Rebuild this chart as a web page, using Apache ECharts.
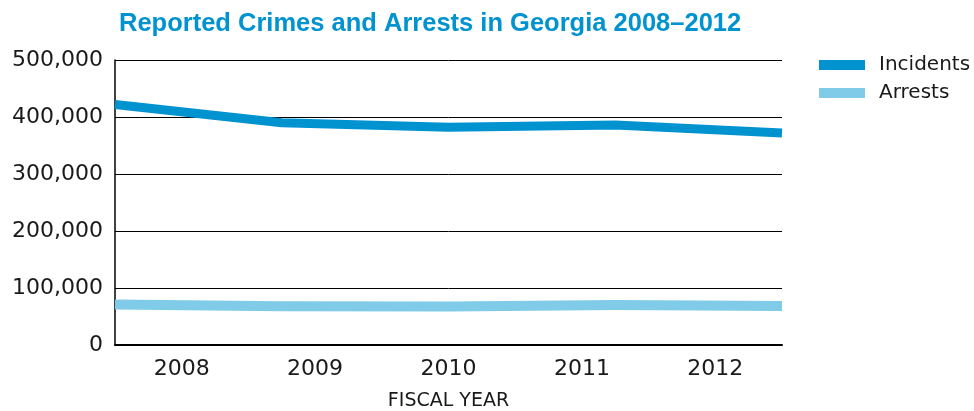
<!DOCTYPE html>
<html>
<head>
<meta charset="utf-8">
<script src="https://cdn.jsdelivr.net/npm/echarts@6/dist/echarts.min.js"></script>
<style>html,body{margin:0;padding:0;background:#fff}#c{width:974px;height:411px}</style>
</head>
<body>
<div id="c"></div>
<script>
const years = ['2008', '2009', '2010', '2011', '2012'];
const incidents = [422000, 390000, 382000, 386000, 372000];
const arrests = [71000, 68000, 67500, 70000, 68500];
const yTicks = [0, 100000, 200000, 300000, 400000, 500000];

const fmt = v => String(v).replace(/\B(?=(\d{3})+(?!\d))/g, ',');
const chart = echarts.init(document.getElementById('c'));
chart.setOption({
  animation: false,
  backgroundColor: '#fff',
  title: {
    text: 'Reported Crimes and Arrests in Georgia 2008–2012',
    left: 114, top: 6,
    textStyle: { color: '#0093d0', fontFamily: 'Liberation Sans', fontWeight: 'bold', fontSize: 25.5 }
  },
  legend: {
    orient: 'vertical', left: 819, top: 55, padding: 0,
    itemWidth: 46, itemHeight: 10, itemGap: 8,
    icon: 'rect',
    textStyle: { fontFamily: 'DejaVu Sans', fontSize: 20, color: '#1a1a1a', padding: [0, 0, 0, 9] },
    data: ['Incidents', 'Arrests']
  },
  grid: { left: 115, right: 192, top: 60, bottom: 66, containLabel: false, outerBoundsMode: 'none' },
  xAxis: [
    {
      type: 'category', data: years, boundaryGap: true, position: 'bottom',
      axisLine: { show: true, lineStyle: { color: '#000', width: 2 } },
      axisTick: { show: false },
      axisLabel: { fontFamily: 'DejaVu Sans', fontSize: 22, color: '#1a1a1a', margin: 13 },
      name: 'FISCAL YEAR', nameLocation: 'middle', nameGap: 47,
      nameTextStyle: { fontFamily: 'DejaVu Sans', fontSize: 19, color: '#1a1a1a' }
    },
    {
      type: 'category', data: years, boundaryGap: false, position: 'bottom', show: false
    }
  ],
  yAxis: {
    type: 'value', min: 0, max: 500000, interval: 100000,
    axisLine: { show: true, lineStyle: { color: '#000', width: 1.5 } },
    axisTick: { show: false },
    splitLine: { show: true, lineStyle: { color: '#000', width: 1 } },
    axisLabel: {
      fontFamily: 'DejaVu Sans', fontSize: 22, color: '#1a1a1a', margin: 12,
      formatter: v => yTicks.includes(v) ? fmt(v) : ''
    }
  },
  series: [
    {
      name: 'Incidents', type: 'line', xAxisIndex: 1, data: incidents,
      showSymbol: false, symbol: 'none',
      lineStyle: { color: '#0093d0', width: 9, cap: 'butt', join: 'round' },
      itemStyle: { color: '#0093d0' }
    },
    {
      name: 'Arrests', type: 'line', xAxisIndex: 1, data: arrests,
      showSymbol: false, symbol: 'none',
      lineStyle: { color: '#7fcbe8', width: 10, cap: 'butt', join: 'round' },
      itemStyle: { color: '#7fcbe8' }
    }
  ]
});
</script>
</body>
</html>
